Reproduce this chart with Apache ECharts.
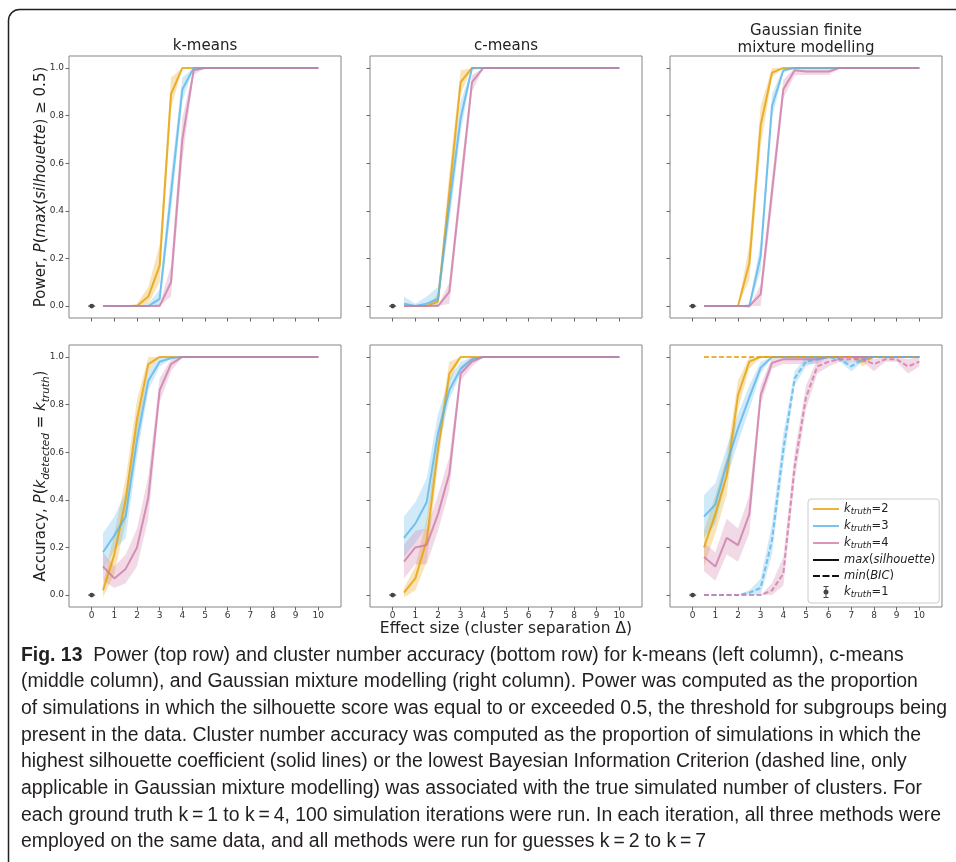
<!DOCTYPE html>
<html><head><meta charset="utf-8">
<script src="https://cdn.jsdelivr.net/npm/echarts@6/dist/echarts.min.js"></script>
<style>html,body{margin:0;padding:0;background:#fff}#c{width:956px;height:862px}</style>
</head><body><div id="c"></div>
<script>
// ---------------- data ----------------
const X = [0.5,1,1.5,2,2.5,3,3.5,4,4.5,5,5.5,6,6.5,7,7.5,8,8.5,9,9.5,10];
const xTicks = [0,1,2,3,4,5,6,7,8,9,10];
const yTicks = [0,0.2,0.4,0.6,0.8,1.0];
const k1X = [0];
const k1Y = [0];

// Power - k-means
const powKm2   = [0,0,0,0,0.04,0.17,0.89,1,1,1,1,1,1,1,1,1,1,1,1,1];
const powKm2Lo = [0,0,0,0,0.01,0.10,0.83,1,1,1,1,1,1,1,1,1,1,1,1,1];
const powKm2Hi = [0,0,0,0.01,0.08,0.26,0.96,1,1,1,1,1,1,1,1,1,1,1,1,1];
const powKm3   = [0,0,0,0,0,0.03,0.47,0.91,1,1,1,1,1,1,1,1,1,1,1,1];
const powKm3Lo = [0,0,0,0,0,0.00,0.40,0.86,1,1,1,1,1,1,1,1,1,1,1,1];
const powKm3Hi = [0,0,0,0,0.01,0.07,0.55,0.96,1,1,1,1,1,1,1,1,1,1,1,1];
const powKm4   = [0,0,0,0,0,0,0.10,0.70,0.99,1,1,1,1,1,1,1,1,1,1,1];
const powKm4Lo = [0,0,0,0,0,0,0.04,0.61,0.97,1,1,1,1,1,1,1,1,1,1,1];
const powKm4Hi = [0,0,0,0,0,0.01,0.17,0.79,1,1,1,1,1,1,1,1,1,1,1,1];
// Power - c-means
const powCm2   = [0,0,0,0.02,0.48,0.94,1,1,1,1,1,1,1,1,1,1,1,1,1,1];
const powCm2Lo = [0,0,0,0,0.41,0.89,1,1,1,1,1,1,1,1,1,1,1,1,1,1];
const powCm2Hi = [0,0,0,0.05,0.56,0.99,1,1,1,1,1,1,1,1,1,1,1,1,1,1];
const powCm3   = [0.01,0,0.01,0.03,0.42,0.79,1,1,1,1,1,1,1,1,1,1,1,1,1,1];
const powCm3Lo = [0,0,0,0,0.35,0.73,0.99,1,1,1,1,1,1,1,1,1,1,1,1,1];
const powCm3Hi = [0.04,0.01,0.04,0.08,0.50,0.86,1,1,1,1,1,1,1,1,1,1,1,1,1,1];
const powCm4   = [0,0,0,0,0.06,0.50,0.94,1,1,1,1,1,1,1,1,1,1,1,1,1];
const powCm4Lo = [0,0,0,0,0.01,0.44,0.90,1,1,1,1,1,1,1,1,1,1,1,1,1];
const powCm4Hi = [0,0,0,0,0.10,0.56,0.97,1,1,1,1,1,1,1,1,1,1,1,1,1];
// Power - Gaussian mixture
const powGm2   = [0,0,0,0,0.18,0.76,0.98,1,1,1,1,1,1,1,1,1,1,1,1,1];
const powGm2Lo = [0,0,0,0,0.11,0.67,0.96,1,1,1,1,1,1,1,1,1,1,1,1,1];
const powGm2Hi = [0,0,0,0,0.26,0.84,1,1,1,1,1,1,1,1,1,1,1,1,1,1];
const powGm3   = [0,0,0,0,0,0.21,0.84,0.99,1,1,1,1,1,1,1,1,1,1,1,1];
const powGm3Lo = [0,0,0,0,-0.01,0.15,0.79,0.98,1,1,1,1,1,1,1,1,1,1,1,1];
const powGm3Hi = [0,0,0,0,0.01,0.27,0.89,1,1,1,1,1,1,1,1,1,1,1,1,1];
const powGm4   = [0,0,0,0,0,0.05,0.48,0.91,0.99,0.985,0.985,0.985,1,1,1,1,1,1,1,1];
const powGm4Lo = [0,0,0,0,0,0,0.42,0.87,0.97,0.97,0.97,0.97,1,1,1,1,1,1,1,1];
const powGm4Hi = [0,0,0,0,0,0.09,0.54,0.95,1,1,1,1,1,1,1,1,1,1,1,1];
// Accuracy - k-means
const accKm2   = [0.02,0.17,0.40,0.74,0.97,1,1,1,1,1,1,1,1,1,1,1,1,1,1,1];
const accKm2Lo = [-0.01,0.09,0.31,0.67,0.94,1,1,1,1,1,1,1,1,1,1,1,1,1,1,1];
const accKm2Hi = [0.05,0.26,0.49,0.82,1,1,1,1,1,1,1,1,1,1,1,1,1,1,1,1];
const accKm3   = [0.18,0.25,0.33,0.65,0.90,0.98,0.995,1,1,1,1,1,1,1,1,1,1,1,1,1];
const accKm3Lo = [0.10,0.19,0.24,0.58,0.86,0.96,0.99,1,1,1,1,1,1,1,1,1,1,1,1,1];
const accKm3Hi = [0.26,0.33,0.43,0.72,0.94,1,1,1,1,1,1,1,1,1,1,1,1,1,1,1];
const accKm4   = [0.12,0.07,0.11,0.20,0.41,0.86,0.97,1,1,1,1,1,1,1,1,1,1,1,1,1];
const accKm4Lo = [0.06,0.03,0.05,0.12,0.32,0.81,0.94,1,1,1,1,1,1,1,1,1,1,1,1,1];
const accKm4Hi = [0.18,0.12,0.17,0.28,0.50,0.91,0.99,1,1,1,1,1,1,1,1,1,1,1,1,1];
// Accuracy - c-means
const accCm2   = [0.01,0.07,0.23,0.61,0.93,1,1,1,1,1,1,1,1,1,1,1,1,1,1,1];
const accCm2Lo = [-0.01,0.02,0.14,0.55,0.89,1,1,1,1,1,1,1,1,1,1,1,1,1,1,1];
const accCm2Hi = [0.03,0.12,0.32,0.67,0.98,1,1,1,1,1,1,1,1,1,1,1,1,1,1,1];
const accCm3   = [0.24,0.30,0.39,0.68,0.86,0.95,0.99,1,1,1,1,1,1,1,1,1,1,1,1,1];
const accCm3Lo = [0.16,0.22,0.29,0.61,0.82,0.93,0.98,1,1,1,1,1,1,1,1,1,1,1,1,1];
const accCm3Hi = [0.33,0.39,0.49,0.76,0.91,0.98,1,1,1,1,1,1,1,1,1,1,1,1,1,1];
const accCm4   = [0.14,0.20,0.21,0.34,0.51,0.93,0.98,1,1,1,1,1,1,1,1,1,1,1,1,1];
const accCm4Lo = [0.07,0.13,0.13,0.27,0.44,0.90,0.96,1,1,1,1,1,1,1,1,1,1,1,1,1];
const accCm4Hi = [0.21,0.27,0.28,0.42,0.58,0.96,1,1,1,1,1,1,1,1,1,1,1,1,1,1];
// Accuracy - Gaussian mixture, max(silhouette)
const accGm2   = [0.20,0.34,0.50,0.84,0.98,1,1,1,1,1,1,1,1,1,1,1,1,1,1,1];
const accGm2Lo = [0.12,0.26,0.42,0.78,0.95,1,1,1,1,1,1,1,1,1,1,1,1,1,1,1];
const accGm2Hi = [0.27,0.42,0.58,0.90,1,1,1,1,1,1,1,1,1,1,1,1,1,1,1,1];
const accGm3   = [0.33,0.38,0.55,0.70,0.83,0.955,1,1,1,1,1,1,1,1,1,1,1,1,1,1];
const accGm3Lo = [0.24,0.30,0.49,0.64,0.78,0.93,1,1,1,1,1,1,1,1,1,1,1,1,1,1];
const accGm3Hi = [0.42,0.47,0.62,0.76,0.88,0.98,1,1,1,1,1,1,1,1,1,1,1,1,1,1];
const accGm4   = [0.16,0.12,0.24,0.21,0.34,0.84,0.975,0.99,0.99,0.99,0.99,1,1,1,1,1,1,1,1,1];
const accGm4Lo = [0.10,0.06,0.17,0.14,0.26,0.80,0.95,0.97,0.97,0.97,0.97,1,1,1,1,1,1,1,1,1];
const accGm4Hi = [0.22,0.18,0.32,0.28,0.42,0.88,1,1,1,1,1,1,1,1,1,1,1,1,1,1];
// Accuracy - Gaussian mixture, min(BIC)
const bicGm2   = [1,1,1,1,1,1,1,1,1,1,1,1,1,1,0.98,1,1,1,1,1];
const bicGm2Lo = [1,1,1,1,1,1,1,1,1,1,1,1,1,1,0.96,1,1,1,1,1];
const bicGm2Hi = [1,1,1,1,1,1,1,1,1,1,1,1,1,1,1,1,1,1,1,1];
const bicGm3   = [0,0,0,0,0.01,0.03,0.23,0.61,0.91,0.98,0.99,1,0.99,0.96,0.99,1,1,1,1,1];
const bicGm3Lo = [0,0,0,0,0,0,0.17,0.55,0.88,0.96,0.98,1,0.98,0.94,0.98,1,1,1,1,1];
const bicGm3Hi = [0,0,0,0,0.02,0.07,0.30,0.68,0.94,1,1,1,1,0.98,1,1,1,1,1,1];
const bicGm4   = [0,0,0,0,0,0,0.02,0.09,0.54,0.83,0.96,0.98,0.99,0.99,0.99,0.97,0.99,0.99,0.96,0.98];
const bicGm4Lo = [0,0,0,0,0,0,0,0.04,0.48,0.78,0.93,0.96,0.98,0.98,0.98,0.94,0.98,0.98,0.93,0.96];
const bicGm4Hi = [0,0,0,0,0,0,0.05,0.16,0.60,0.88,0.99,1,1,1,1,0.99,1,1,0.99,1];

const panelTitles = ['k-means', 'c-means', 'Gaussian finite\nmixture modelling'];
const captionLines = [
  '{b|Fig. 13}  Power (top row) and cluster number accuracy (bottom row) for k-means (left column), c-means',
  '(middle column), and Gaussian mixture modelling (right column). Power was computed as the proportion',
  'of simulations in which the silhouette score was equal to or exceeded 0.5, the threshold for subgroups being',
  'present in the data. Cluster number accuracy was computed as the proportion of simulations in which the',
  'highest silhouette coefficient (solid lines) or the lowest Bayesian Information Criterion (dashed line, only',
  'applicable in Gaussian mixture modelling) was associated with the true simulated number of clusters. For',
  'each ground truth k\u2009=\u20091 to k\u2009=\u20094, 100 simulation iterations were run. In each iteration, all three methods were',
  'employed on the same data, and all methods were run for guesses k\u2009=\u20092 to k\u2009=\u20097'
];

// ---------------- styling / layout ----------------
const COL = {k2:[230,159,0], k3:[86,180,233], k4:[204,121,167]};
const rgba = (c,a)=>'rgba('+c[0]+','+c[1]+','+c[2]+','+a+')';
const FONT = 'DejaVu Sans';
const colLeft = [69, 370, 670];
const rowTop = [56, 345];
const PW = 272, PH = 262;

const grids = [], xAxes = [], yAxes = [], series = [];
for (let r = 0; r < 2; r++) for (let c = 0; c < 3; c++) {
  const gi = r*3 + c;
  grids.push({left: colLeft[c], top: rowTop[r], width: PW, height: PH, show: true,
    borderColor: '#858585', borderWidth: 1, backgroundColor: 'transparent', containLabel: false});
  xAxes.push({gridIndex: gi, type: 'value', min: -1, max: 11, position: 'bottom',
    axisLine: {show: false, onZero: false}, splitLine: {show: false},
    axisTick: {show: true, length: 3.5, lineStyle: {color: '#666', width: 1}, customValues: xTicks},
    axisLabel: {show: r === 1, customValues: xTicks, fontSize: 9, margin: 4, color: '#333', fontFamily: FONT},
    name: (gi === 4) ? 'Effect size (cluster separation \u0394)' : '',
    nameLocation: 'middle', nameGap: 13, nameMoveOverlap: false,
    nameTextStyle: {fontSize: 15.5, color: '#222', fontFamily: FONT, lineHeight: 18}
  });
  let yname = '';
  if (gi === 0) yname = '{n|Power, }{i|P}{n|(}{i|max}{n|(}{i|silhouette}{n|) \u2265 0.5)}';
  if (gi === 3) yname = '{n|Accuracy, }{i|P}{n|(}{i|k}{s|detected}{n| = }{i|k}{s|truth}{n|)}';
  yAxes.push({gridIndex: gi, type: 'value', min: -0.05, max: 1.05, position: 'left',
    axisLine: {show: false, onZero: false}, splitLine: {show: false},
    axisTick: {show: true, length: 3.5, lineStyle: {color: '#666', width: 1}, customValues: yTicks},
    axisLabel: {show: c === 0, customValues: yTicks, fontSize: 9, margin: 5, color: '#333', fontFamily: FONT,
      formatter: v => Number(v).toFixed(1)},
    name: yname, nameLocation: 'middle', nameRotate: 90, nameGap: 17, nameMoveOverlap: false,
    nameTextStyle: {color: '#222', fontFamily: FONT, rich: {
      n: {fontSize: 15, lineHeight: 22, fontFamily: FONT, color: '#222'},
      i: {fontSize: 15, lineHeight: 22, fontStyle: 'italic', fontFamily: FONT, color: '#222'},
      s: {fontSize: 10.5, lineHeight: 9, fontStyle: 'italic', verticalAlign: 'bottom', fontFamily: FONT, color: '#222'}
    }}
  });
}

function addCurve(gi, key, name, mean, lo, hi, dashed) {
  const col = COL[key];
  const fill = rgba(col, 0.28);
  series.push({
    type: 'custom', name: name + ' band', xAxisIndex: gi, yAxisIndex: gi, z: 1, silent: true,
    data: X.map((x, i) => [x, lo[i], hi[i]]), encode: {x: 0, y: [1, 2]},
    renderItem: function (params, api) {
      if (params.dataIndex !== 0) return null;
      const top = X.map((x, i) => api.coord([x, hi[i]]));
      const bot = X.map((x, i) => api.coord([x, lo[i]])).reverse();
      return {type: 'polygon', shape: {points: top.concat(bot)}, style: {fill: fill, stroke: null}};
    }
  });
  series.push({
    type: 'line', name: name, xAxisIndex: gi, yAxisIndex: gi, z: 2, symbol: 'none', showSymbol: false,
    color: rgba(col, 0.78),
    lineStyle: {width: 2, color: rgba(col, 0.78), type: dashed ? [5, 2.5] : 'solid'},
    data: X.map((x, i) => [x, mean[i]])
  });
}

const panelCurves = [
  [['k2', powKm2, powKm2Lo, powKm2Hi], ['k3', powKm3, powKm3Lo, powKm3Hi], ['k4', powKm4, powKm4Lo, powKm4Hi]],
  [['k2', powCm2, powCm2Lo, powCm2Hi], ['k3', powCm3, powCm3Lo, powCm3Hi], ['k4', powCm4, powCm4Lo, powCm4Hi]],
  [['k2', powGm2, powGm2Lo, powGm2Hi], ['k3', powGm3, powGm3Lo, powGm3Hi], ['k4', powGm4, powGm4Lo, powGm4Hi]],
  [['k2', accKm2, accKm2Lo, accKm2Hi], ['k3', accKm3, accKm3Lo, accKm3Hi], ['k4', accKm4, accKm4Lo, accKm4Hi]],
  [['k2', accCm2, accCm2Lo, accCm2Hi], ['k3', accCm3, accCm3Lo, accCm3Hi], ['k4', accCm4, accCm4Lo, accCm4Hi]],
  [['k2', accGm2, accGm2Lo, accGm2Hi], ['k3', accGm3, accGm3Lo, accGm3Hi], ['k4', accGm4, accGm4Lo, accGm4Hi]]
];
panelCurves.forEach((curves, gi) => curves.forEach(c => addCurve(gi, c[0], c[0], c[1], c[2], c[3], false)));
[['k2', bicGm2, bicGm2Lo, bicGm2Hi], ['k3', bicGm3, bicGm3Lo, bicGm3Hi], ['k4', bicGm4, bicGm4Lo, bicGm4Hi]]
  .forEach(c => addCurve(5, c[0], c[0] + ' BIC', c[1], c[2], c[3], true));

// k_truth = 1 markers (zero-width error bar + point)
for (let gi = 0; gi < 6; gi++) {
  series.push({
    type: 'custom', name: 'k1', xAxisIndex: gi, yAxisIndex: gi, z: 3, itemStyle: {color: '#454545'},
    data: k1X.map((x, i) => [x, k1Y[i]]), encode: {x: 0, y: 1},
    renderItem: function (params, api) {
      const p = api.coord([api.value(0), api.value(1)]);
      return {type: 'group', children: [
        {type: 'line', shape: {x1: p[0] - 3.5, y1: p[1], x2: p[0] + 3.5, y2: p[1]}, style: {stroke: '#454545', lineWidth: 1.2}},
        {type: 'circle', shape: {cx: p[0], cy: p[1], r: 2.4}, style: {fill: '#454545'}}
      ]};
    }
  });
}
// legend-only style keys
series.push({type: 'line', name: 'maxsil', xAxisIndex: 5, yAxisIndex: 5, data: [], symbol: 'none', color: '#111', lineStyle: {width: 2, color: '#111', type: 'solid'}});
series.push({type: 'line', name: 'minbic', xAxisIndex: 5, yAxisIndex: 5, data: [], symbol: 'none', color: '#111', lineStyle: {width: 2, color: '#111', type: [5, 2.5]}});

const legendText = {
  k2: '{i|k}{s|truth}{n|=2}', k3: '{i|k}{s|truth}{n|=3}', k4: '{i|k}{s|truth}{n|=4}',
  maxsil: '{i|max}{n|(}{i|silhouette}{n|)}', minbic: '{i|min}{n|(}{i|BIC}{n|)}', k1: '{i|k}{s|truth}{n|=1}'
};
const ICON_SOLID = 'path://M0,0H26V2H0Z';
const ICON_DASH = 'path://M0,0H7V2H0Z M9.5,0H16.5V2H9.5Z M19,0H26V2H19Z';
const ICON_ERR = 'path://M5,0H7V24H5Z M1,0H11V2H1Z M1,22H11V24H1Z M6,7A5,5 0 1 1 6,17A5,5 0 1 1 6,7Z';

// caption sizing: condense a sans font to the measured line widths
const ctx = document.createElement('canvas').getContext('2d');
ctx.font = '20px "Liberation Sans"';
const capScale = 926 / ctx.measureText(captionLines[2]).width;

const graphics = [
  {type: 'rect', silent: true, z: 100, shape: {x: 8.5, y: 9.5, width: 1000, height: 1000, r: 11},
   style: {fill: 'none', stroke: '#231f20', lineWidth: 1.5}}
];
captionLines.forEach((t, i) => {
  graphics.push({type: 'text', silent: true, x: 21, y: 655 + i * 26.7, scaleX: capScale, originX: 0, originY: 0,
    style: {text: t, x: 0, y: 0, fontSize: 20, fontFamily: 'Liberation Sans', fill: '#231f20',
      verticalAlign: 'middle', textVerticalAlign: 'middle', align: 'left',
      rich: {b: {fontSize: 20, fontWeight: 'bold', fontFamily: 'Liberation Sans', fill: '#231f20', color: '#231f20'}}}});
});

const titles = panelTitles.map((t, c) => ({
  text: t, left: colLeft[c] + PW / 2, top: t.indexOf('\n') >= 0 ? 23 : 38, textAlign: 'center', padding: 0,
  textStyle: {fontSize: 15, fontWeight: 'normal', color: '#222', fontFamily: FONT, lineHeight: 16.5}
}));

const option = {
  animation: false,
  backgroundColor: '#ffffff',
  textStyle: {fontFamily: FONT},
  title: titles,
  grid: grids, xAxis: xAxes, yAxis: yAxes, series: series,
  legend: {
    left: 808, top: 499, orient: 'vertical', selectedMode: false,
    itemWidth: 26, itemHeight: 12, itemGap: 4, padding: [4, 4, 4, 5],
    backgroundColor: 'rgba(255,255,255,0.85)', borderColor: '#cccccc', borderWidth: 1, borderRadius: 3,
    data: [{name: 'k2', icon: ICON_SOLID}, {name: 'k3', icon: ICON_SOLID}, {name: 'k4', icon: ICON_SOLID},
      {name: 'maxsil', icon: ICON_SOLID}, {name: 'minbic', icon: ICON_DASH}, {name: 'k1', icon: ICON_ERR}],
    formatter: name => legendText[name] || name,
    textStyle: {color: '#222', fontFamily: FONT, rich: {
      n: {fontSize: 11.5, lineHeight: 14, fontFamily: FONT, color: '#222'},
      i: {fontSize: 11.5, lineHeight: 14, fontStyle: 'italic', fontFamily: FONT, color: '#222'},
      s: {fontSize: 8.5, lineHeight: 7, fontStyle: 'italic', verticalAlign: 'bottom', fontFamily: FONT, color: '#222'}
    }}
  },
  graphic: graphics
};

const chart = echarts.init(document.getElementById('c'), null, {renderer: 'canvas'});
chart.setOption(option);
</script></body></html>
